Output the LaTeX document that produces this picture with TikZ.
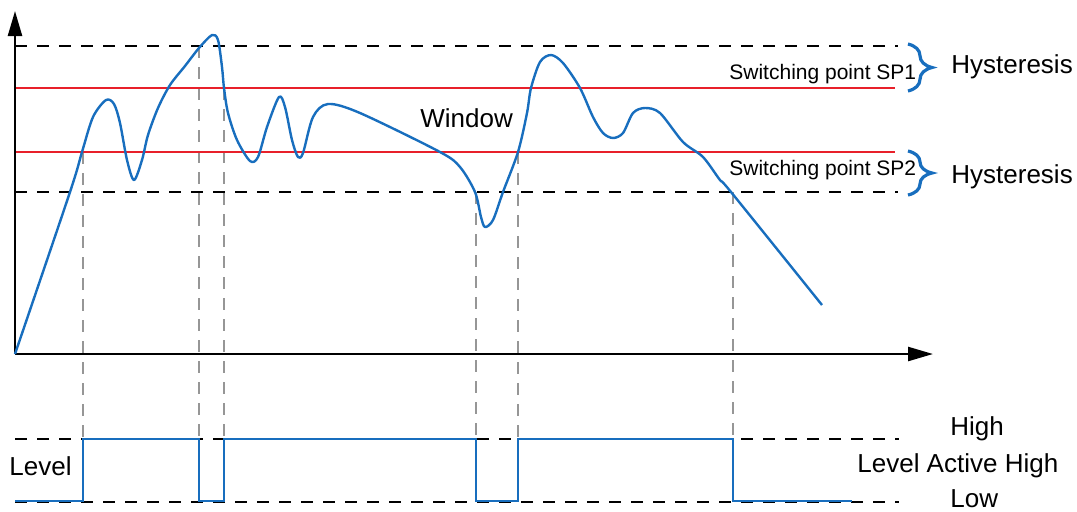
\documentclass[tikz,border=0pt]{standalone}
\usepackage{fontspec}
\setmainfont{Liberation Sans}
\usetikzlibrary{arrows.meta,decorations.pathreplacing}
\definecolor{curveblue}{RGB}{24,110,190}
\definecolor{spred}{RGB}{232,32,42}
\definecolor{guidegray}{RGB}{150,150,150}
\tikzset{
  axisline/.style={line width=1.2pt,-{Triangle[length=12.5pt,width=7pt]}},
  limitline/.style={black,line width=1pt,dash pattern=on 6pt off 5pt},
  spline/.style={spred,line width=1pt},
  guideline/.style={guidegray,line width=0.9pt,dash pattern=on 6pt off 4.5pt},
  sigline/.style={curveblue,line width=1.2pt,line join=round},
  hysbrace/.style={curveblue,line width=1.6pt,decorate,decoration={brace,amplitude=12pt}},
  bigtxt/.style={font=\fontsize{13pt}{15pt}\selectfont,inner sep=0pt,anchor=base west},
  smalltxt/.style={font=\fontsize{10.5pt}{12pt}\selectfont,inner sep=0pt,anchor=base west}
}
\begin{document}
\begin{tikzpicture}[x=0.5pt,y=-0.5pt]
\useasboundingbox (0,0) rectangle (1077,511);
% coordinates
\coordinate (o) at (15,354);
\coordinate (ytip) at (15,11);
\coordinate (xtip) at (933,354);
% guide lines
\coordinate (g1t) at (83,152);  \coordinate (g1b) at (83,502);
\coordinate (g2t) at (199,46);  \coordinate (g2b) at (199,502);
\coordinate (g3t) at (224,88);  \coordinate (g3b) at (224,502);
\coordinate (g4t) at (476,192); \coordinate (g4b) at (476,502);
\coordinate (g5t) at (518,152); \coordinate (g5b) at (518,502);
\coordinate (g6t) at (733,192); \coordinate (g6b) at (733,502);
\foreach \i in {1,...,6} {\draw[guideline] (g\i t) -- (g\i b);}
% limit lines
\coordinate (h1a) at (15,46);  \coordinate (h1b) at (898,46);
\coordinate (s1a) at (15,88);  \coordinate (s1b) at (895,88);
\coordinate (s2a) at (15,152); \coordinate (s2b) at (895,152);
\coordinate (h2a) at (15,192); \coordinate (h2b) at (898,192);
\draw[limitline] (h1a) -- (h1b);
\draw[limitline] (h2a) -- (h2b);
\draw[spline] (s1a) -- (s1b);
\draw[spline] (s2a) -- (s2b);
% level lines
\coordinate (hia) at (15,439); \coordinate (hib) at (899,439);
\coordinate (loa) at (15,502); \coordinate (lob) at (899,502);
\draw[limitline] (hia) -- (hib);
\draw[limitline] (loa) -- (lob);
% axes
\draw[axisline] (o) -- (ytip);
\draw[axisline] (o) -- (xtip);
% signal curve
\draw[sigline] plot[smooth,tension=0.5] coordinates {
(15,354) (70,192) (82,152) (93,117) (106,100) (114,104) (120,123) (127,160) (134,180) (142,160) (148,135) (158,108) (170,85) (185,66) (199,48) (212,35) (218,40) (222,67) (224,88) (228,113) (237,140) (250,161) (258,157) (267,127) (279,97) (285,107) (292,140) (298,157) (303,153) (313,117) (328,104) (360,113) (440,152) (460,167) (475,192) (481,217) (485,227) (493,220) (503,192) (518,152) (527,113) (531,88) (540,62) (551,55) (563,63) (580,88) (593,117) (603,133) (613,138) (623,133) (633,113) (645,108) (660,113) (683,142) (703,157) (720,180) (731,192) (822,305)};
% level output
\draw[curveblue,line width=1pt] (15,501) -- (83,501) -- (83,439) -- (199,439) -- (199,501) -- (224,501) -- (224,439) -- (476,439) -- (476,501) -- (518,501) -- (518,439) -- (733,439) -- (733,501) -- (852,501);
% braces
\coordinate (b1t) at (908,44); \coordinate (b1b) at (908,91);
\coordinate (b2t) at (908,151); \coordinate (b2b) at (908,195);
\draw[hysbrace] (b1t) -- (b1b);
\draw[hysbrace] (b2t) -- (b2b);
% texts
\node[bigtxt] (win) at (420,127) {Window};
\node[smalltxt] (sp1) at (729,79) {Switching point SP1};
\node[smalltxt] (sp2) at (729,175) {Switching point SP2};
\node[bigtxt] (hy1) at (951,73) {Hysteresis};
\node[bigtxt] (hy2) at (951,183) {Hysteresis};
\node[bigtxt] (lvl) at (9,475) {Level};
\node[bigtxt] (hi) at (950,435) {High};
\node[bigtxt] (lah) at (857,472) {Level Active High};
\node[bigtxt] (lo) at (950,507) {Low};
\end{tikzpicture}
\end{document}
